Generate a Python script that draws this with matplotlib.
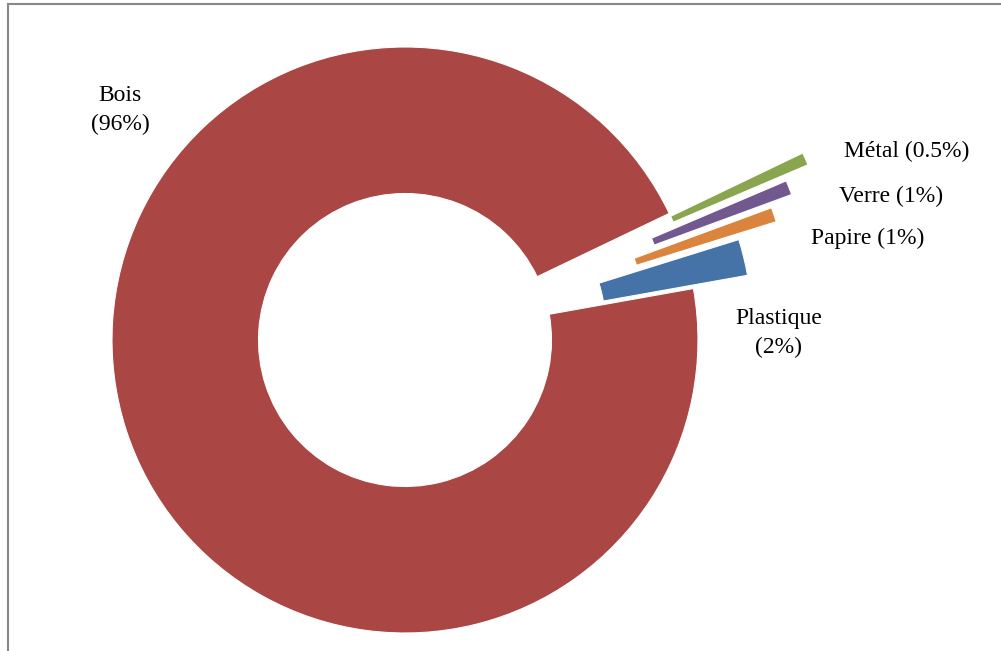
import matplotlib
matplotlib.use("Agg")
import matplotlib.pyplot as plt
from matplotlib.lines import Line2D

# share of each material (drawn slices), and the label text shown on the chart
materials = ["Bois", "Plastique", "Papire", "Verre", "Métal"]
shares = [95.7, 2.0, 0.8, 0.8, 0.7]
label_text = ["Bois\n(96%)", "Plastique\n(2%)", "Papire (1%)", "Verre (1%)", "Métal (0.5%)"]

COLORS = ["#AA4643", "#4572A7", "#DB843D", "#71588F", "#89A54E"]
EXPLODE = [0, 0.19, 0.33, 0.41, 0.5]

W, H = 1001, 651
CX, CY, R = 405, 340, 293   # donut centre / radius in pixels


def px(x, y):
    """pixel position -> data coords (radius 1 == R px)"""
    return (x - CX) / R, (CY - y) / R


plt.rcParams["font.family"] = ["Liberation Serif", "DejaVu Serif"]

fig = plt.figure(figsize=(W / 100, H / 100), dpi=100)
ax = fig.add_axes([0, 0, 1, 1])
ax.pie(shares, colors=COLORS, explode=EXPLODE, startangle=25.6,
       counterclock=True, radius=1.0,
       wedgeprops=dict(width=0.5, edgecolor="white", linewidth=0.8))
x0, y1 = px(0, 0)
x1, y0 = px(W, H)
ax.set_xlim(x0, x1); ax.set_ylim(y0, y1)
ax.set_aspect("auto")
ax.axis("off")

# label placement (pixel centres)
label_pos = [(120, 110), (779, 333), (868, 238), (891, 196), (907, 151)]
for txt, (lx, ly) in zip(label_text, label_pos):
    ax.text(*px(lx, ly), txt, ha="center", va="center", fontsize=17,
            color="black", linespacing=1.5)

# thin grey frame on the left and top edges
fig.add_artist(Line2D([7.5 / W, 7.5 / W], [0, 1 - 4 / H], transform=fig.transFigure,
                      color="#888888", lw=1.5))
fig.add_artist(Line2D([7.5 / W, 1], [1 - 4 / H, 1 - 4 / H], transform=fig.transFigure,
                      color="#888888", lw=1.5))

fig.savefig("out.png", dpi=100, facecolor="white")
